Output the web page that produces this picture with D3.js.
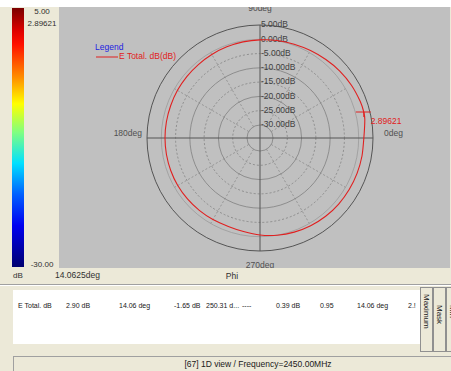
<!DOCTYPE html>
<html>
<head>
<meta charset="utf-8">
<script src="https://cdn.jsdelivr.net/npm/d3@7/dist/d3.min.js"></script>
<style>
  html, body { margin: 0; padding: 0; background: #ffffff; }
  svg { display: block; }
  text { font-family: "Liberation Sans", Arial, sans-serif; }
</style>
</head>
<body>
<svg id="chart" width="451" height="371"></svg>
<script>
// Far-field cut: E Total (dB) versus Phi (deg)
const phiDeg = [0, 10, 14.06, 20, 30, 40, 50, 60, 70, 80, 90, 100, 110, 120, 130, 140, 150, 160, 170,
                180, 190, 200, 210, 220, 230, 240, 250.31, 260, 270, 280, 290, 300, 310, 320, 330, 340, 350];
const eTotal = [1.8, 2.7, 2.9, 2.8, 2.4, 1.9, 1.3, 0.8, 0.4, 0.1, -0.2, -0.4, -0.6, -0.8, -1.0, -1.1, -1.2, -1.3, -1.3,
                -1.3, -1.3, -1.3, -1.3, -1.4, -1.5, -1.6, -1.65, -1.3, -0.6, 0.0, 0.5, 0.9, 1.2, 1.4, 1.5, 1.6, 1.7];

// Radial grid (dB) and angular labels
const radialTicks = [5, 0, -5, -10, -15, -20, -25, -30];
const angleLabels = [
  {deg: 0, text: "0deg"}, {deg: 90, text: "90deg"},
  {deg: 180, text: "180deg"}, {deg: 270, text: "270deg"}
];
const spokeAngles = [30, 60, 120, 150, 210, 240, 300, 330];

// Colour scale legend
const scaleMax = 5.00, scaleMin = -30.00, currentValue = 2.89621;
const scaleUnit = "dB";
const cursorText = "14.0625deg";
const axisName = "Phi";

// Summary table row
const tableRow = ["E Total. dB", "2.90 dB", "14.06 deg", "-1.65 dB", "250.31 d...", "----", "0.39 dB", "0.95", "14.06 deg", "2.!"];
const tabNames = ["Maximum", "Mask", "Min"];
const statusText = "[67] 1D view / Frequency=2450.00MHz";

const svg = d3.select("#chart");
const W = 451, H = 371;
const beige = "#ece9d8";

// window background
svg.append("rect").attr("x", 0).attr("y", 7).attr("width", W).attr("height", H - 7).attr("fill", beige);

// plot area
const plot = {x: 59, y: 7, w: 391, h: 261};
svg.append("rect").attr("x", plot.x).attr("y", plot.y).attr("width", plot.w).attr("height", plot.h).attr("fill", "#c0c0c0");

const defs = svg.append("defs");
defs.append("clipPath").attr("id", "pclip").append("rect")
  .attr("x", plot.x).attr("y", plot.y).attr("width", plot.w).attr("height", plot.h);

// colour bar
const grad = defs.append("linearGradient").attr("id", "cbar").attr("x1", 0).attr("y1", 0).attr("x2", 0).attr("y2", 1);
[[0, "#7a0000"], [0.09, "#e00000"], [0.14, "#ff1000"], [0.27, "#ff9000"], [0.37, "#ffff00"],
 [0.48, "#80ff80"], [0.6, "#00e0ff"], [0.72, "#0060ff"], [0.84, "#0000f0"], [1, "#000070"]]
  .forEach(([o, c]) => grad.append("stop").attr("offset", o).attr("stop-color", c));
svg.append("rect").attr("x", 12).attr("y", 8).attr("width", 12).attr("height", 259).attr("fill", "url(#cbar)");

const smallTxt = (x, y, t, opts = {}) => svg.append("text")
  .attr("x", x).attr("y", y).text(t)
  .attr("font-size", opts.size || 8)
  .attr("fill", opts.fill || "#303030")
  .attr("text-anchor", opts.anchor || "start")
  .attr("dominant-baseline", "middle");

smallTxt(42, 12, scaleMax.toFixed(2), {anchor: "middle"});
smallTxt(42, 24, String(currentValue), {anchor: "middle"});
smallTxt(42, 265, scaleMin.toFixed(2), {anchor: "middle"});
smallTxt(13, 276, scaleUnit);
smallTxt(55, 276, cursorText, {size: 8.5});
smallTxt(232, 277, axisName, {anchor: "middle", size: 8.5});

// polar chart
const cx = 260, cy = 138;
const r = d3.scaleLinear().domain([-30, 5]).range([13, 113]);
const g = svg.append("g").attr("clip-path", "url(#pclip)")
  .append("g").attr("transform", `translate(${cx},${cy})`);
const rad = d => d * Math.PI / 180;

// spokes to the 0 dB ring
g.selectAll("line.spoke").data(spokeAngles).join("line")
  .attr("x1", d => r(-30) * Math.cos(rad(d))).attr("y1", d => -r(-30) * Math.sin(rad(d)))
  .attr("x2", d => r(0) * Math.cos(rad(d))).attr("y2", d => -r(0) * Math.sin(rad(d)))
  .attr("stroke", "#8a8a8a").attr("stroke-width", 0.8).attr("stroke-dasharray", "2,2");

// rings
g.selectAll("circle.ring").data(radialTicks).join("circle")
  .attr("r", d => r(d)).attr("fill", "none")
  .attr("stroke", d => d === 5 ? "#555555" : (d === 0 ? "#9a9a9a" : "#808080"))
  .attr("stroke-width", d => d === 5 ? 1 : 0.8)
  .attr("stroke-dasharray", d => (d % 10 !== 0 && d !== 5) ? "2,2" : null);

// main axes
g.append("line").attr("x1", -r(5)).attr("x2", r(5)).attr("y1", 0).attr("y2", 0).attr("stroke", "#555").attr("stroke-width", 1);
g.append("line").attr("x1", 0).attr("x2", 0).attr("y1", -r(5)).attr("y2", r(5)).attr("stroke", "#555").attr("stroke-width", 1);

// radial tick labels along the vertical axis
g.selectAll("text.rt").data(radialTicks).join("text")
  .attr("x", 1).attr("y", d => -r(d))
  .attr("dominant-baseline", "middle").attr("font-size", 8.5).attr("fill", "#404040")
  .text(d => d.toFixed(2) + "dB");

// angle labels
const angPos = {
  0: {x: r(5) + 11, y: -4, a: "start"},
  90: {x: 0, y: -r(5) - 16, a: "middle"},
  180: {x: -r(5) - 5, y: -4, a: "end"},
  270: {x: 0, y: r(5) + 15, a: "middle"}
};
angleLabels.forEach(l => {
  const p = angPos[l.deg];
  g.append("text").attr("x", p.x).attr("y", p.y).attr("text-anchor", p.a)
    .attr("dominant-baseline", "middle").attr("font-size", 8.5).attr("fill", "#505050").text(l.text);
});

// pattern trace
const pts = phiDeg.map((p, i) => ({p, v: eTotal[i]}));
const line = d3.lineRadial()
  .angle(d => Math.PI / 2 - rad(d.p))
  .radius(d => r(d.v))
  .curve(d3.curveCardinalClosed.tension(0.3));
g.append("path").datum(pts).attr("d", line).attr("fill", "none").attr("stroke", "#e02020").attr("stroke-width", 1.1);

// max marker
const iMax = d3.maxIndex(eTotal);
const mx = r(eTotal[iMax]) * Math.cos(rad(phiDeg[iMax]));
const my = -r(eTotal[iMax]) * Math.sin(rad(phiDeg[iMax]));
g.append("line").attr("x1", mx - 8).attr("x2", mx + 7).attr("y1", my).attr("y2", my).attr("stroke", "#e02020").attr("stroke-width", 1);
g.append("line").attr("x1", mx).attr("x2", mx).attr("y1", my).attr("y2", my + 5).attr("stroke", "#e02020").attr("stroke-width", 1);
g.append("text").attr("x", mx + 7).attr("y", my + 10).attr("dominant-baseline", "middle")
  .attr("font-size", 8.5).attr("fill", "#e02020").text(String(currentValue));

// legend
svg.append("text").attr("x", 95).attr("y", 48).attr("dominant-baseline", "middle").attr("font-size", 8.5).attr("fill", "#2020e0").text("Legend");
svg.append("line").attr("x1", 96).attr("x2", 118).attr("y1", 57).attr("y2", 57).attr("stroke", "#e02020").attr("stroke-width", 1);
svg.append("text").attr("x", 119).attr("y", 57).attr("dominant-baseline", "middle").attr("font-size", 8.5).attr("fill", "#e02020").text("E Total. dB(dB)");

// separator under plot
svg.append("line").attr("x1", 0).attr("x2", W).attr("y1", 284.5).attr("y2", 284.5).attr("stroke", "#a0a0a0");
svg.append("line").attr("x1", 0).attr("x2", W).attr("y1", 285.5).attr("y2", 285.5).attr("stroke", "#ffffff");

// summary table
svg.append("rect").attr("x", 13).attr("y", 290).attr("width", 407).attr("height", 54).attr("fill", "#ffffff");
const colX = [18, 66, 119, 174, 206, 242, 276, 320, 357, 408];
const tableClip = defs.append("clipPath").attr("id", "tclip");
tableClip.append("rect").attr("x", 13).attr("y", 290).attr("width", 407).attr("height", 54);
svg.append("g").attr("clip-path", "url(#tclip)").selectAll("text").data(tableRow).join("text")
  .attr("x", (d, i) => colX[i]).attr("y", 306).attr("dominant-baseline", "middle")
  .attr("font-size", 7).attr("fill", "#202020").text(d => d);

// side tabs
const tabX = [420, 433, 446];
tabNames.forEach((t, i) => {
  svg.append("rect").attr("x", tabX[i] + 0.5).attr("y", 287.5).attr("width", 12).attr("height", 64)
    .attr("fill", beige).attr("stroke", "#909090");
  svg.append("text").attr("transform", `translate(${tabX[i] + 4},${i === 0 ? 294 : 305}) rotate(90)`)
    .attr("font-size", 8).attr("fill", "#202020").text(t);
});

// status bar
svg.append("line").attr("x1", 13).attr("x2", W).attr("y1", 356.5).attr("y2", 356.5).attr("stroke", "#a0a0a0");
svg.append("line").attr("x1", 13.5).attr("x2", 13.5).attr("y1", 356).attr("y2", H).attr("stroke", "#a0a0a0");
svg.append("text").attr("x", 258).attr("y", 365).attr("text-anchor", "middle").attr("dominant-baseline", "middle")
  .attr("font-size", 8.5).attr("fill", "#202020").text(statusText);
</script>
</body>
</html>
